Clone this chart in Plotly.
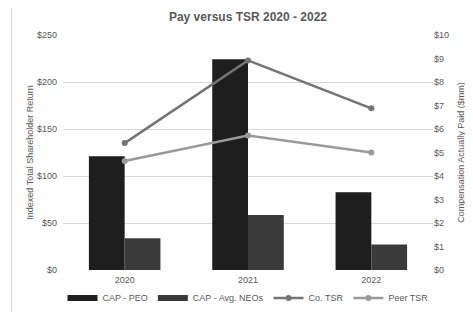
import plotly.graph_objects as go

years = ["2020", "2021", "2022"]
cap_peo = [4.84, 8.97, 3.31]
cap_neo = [1.35, 2.34, 1.09]
co_tsr = [135, 223, 172]
peer_tsr = [116, 143, 125]

left_ticks = [0, 50, 100, 150, 200, 250]
left_labels = ["$0", "$50", "$100", "$150", "$200", "$250"]
right_ticks = list(range(0, 11))
right_labels = ["$" + str(v) for v in right_ticks]

FONT = "Arial, Liberation Sans, sans-serif"
GRAY = "#595959"
PEO_C = "#1e1e1e"
NEO_C = "#3a3a3a"

# page has an 8px body margin; figure is sized/offset to compensate
W, H = 465, 304

fig = go.Figure()
fig.add_trace(go.Bar(x=years, y=cap_peo, name="CAP - PEO", marker_color=PEO_C,
                     marker_line_width=0, yaxis="y", showlegend=False))
fig.add_trace(go.Bar(x=years, y=cap_neo, name="CAP - Avg. NEOs", marker_color=NEO_C,
                     marker_line_width=0, yaxis="y", showlegend=False))
# legend proxies for the bars (wide swatches)
fig.add_trace(go.Scatter(x=[None], y=[None], name="CAP - PEO", mode="lines",
                         line=dict(color=PEO_C, width=6), yaxis="y"))
fig.add_trace(go.Scatter(x=[None], y=[None], name="CAP - Avg. NEOs", mode="lines",
                         line=dict(color=NEO_C, width=6), yaxis="y"))
fig.add_trace(go.Scatter(x=years, y=co_tsr, name="Co. TSR", mode="lines+markers",
                         line=dict(color="#747474", width=2.5), marker=dict(size=6, color="#747474"),
                         yaxis="y2"))
fig.add_trace(go.Scatter(x=years, y=peer_tsr, name="Peer TSR", mode="lines+markers",
                         line=dict(color="#9a9a9a", width=2.5), marker=dict(size=6, color="#9a9a9a"),
                         yaxis="y2"))

fig.update_layout(
    width=W, height=H,
    margin=dict(l=55, r=40, t=27, b=42, autoexpand=False),
    paper_bgcolor="white", plot_bgcolor="white",
    font=dict(family=FONT, size=9, color=GRAY),
    title=dict(text="<b>Pay versus TSR 2020 - 2022</b>", x=0.5, xref="paper", xanchor="center",
               y=1 - 9 / H, yanchor="middle", font=dict(size=12, color=GRAY, family=FONT)),
    barmode="group", bargap=0.42, bargroupgap=0,
    showlegend=True,
    legend=dict(orientation="h", x=0.5, xanchor="center", y=-0.119, yanchor="middle",
                font=dict(size=9, color=GRAY), itemwidth=30, tracegroupgap=0),
    xaxis=dict(showgrid=False, showline=False, ticks="", tickfont=dict(size=9, color=GRAY),
               automargin=False, ticklabelstandoff=3),
    yaxis=dict(side="right", range=[0, 10], tickvals=right_ticks, ticktext=right_labels,
               showgrid=False, zeroline=False, showline=False, automargin=False,
               title=dict(text="Compensation Actually Paid ($mm)", font=dict(size=9, color=GRAY), standoff=9),
               tickfont=dict(size=9, color=GRAY)),
    yaxis2=dict(side="left", overlaying="y", range=[0, 250], tickvals=left_ticks, ticktext=left_labels,
                showgrid=True, gridcolor="#d9d9d9", gridwidth=1, zeroline=False, showline=False,
                automargin=False, ticklabelstandoff=5,
                title=dict(text="Indexed Total Shareholder Return", font=dict(size=9, color=GRAY), standoff=1),
                tickfont=dict(size=9, color=GRAY)),
    shapes=[dict(type="rect", xref="paper", yref="paper",
                 x0=(11.5 - 63) / 370, x1=(480 - 63) / 370,
                 y0=(270 - 320) / 235, y1=1 + (35 - 2.5) / 235,
                 line=dict(color="#d9d9d9", width=1), fillcolor="rgba(0,0,0,0)", layer="below")],
)

fig.write_html("out.html")
